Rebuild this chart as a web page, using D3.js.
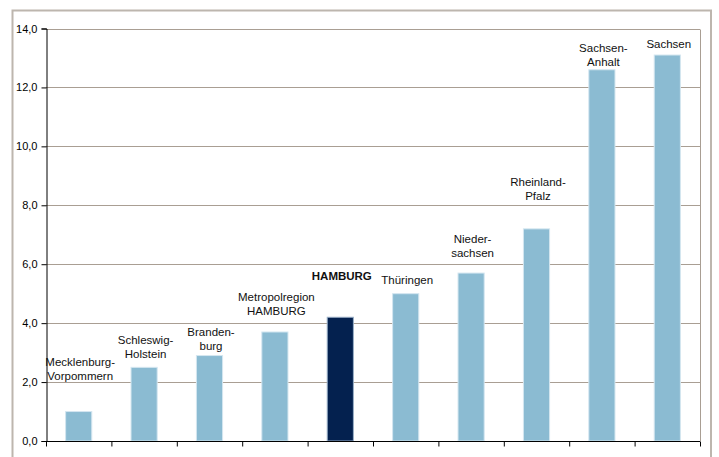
<!DOCTYPE html>
<html><head><meta charset="utf-8">
<script src="https://cdn.jsdelivr.net/npm/d3@7"></script>
<style>body{margin:0;background:#fff;} svg{display:block;font-family:"Liberation Sans",Arial,sans-serif;}</style>
</head><body>
<svg id="c" width="719" height="457"></svg>
<script>
const categories = ["Mecklenburg-\nVorpommern","Schleswig-\nHolstein","Branden-\nburg","Metropolregion\nHAMBURG","HAMBURG","Thüringen","Nieder-\nsachsen","Rheinland-\nPfalz","Sachsen-\nAnhalt","Sachsen"];
const values = [1.0, 2.5, 2.9, 3.7, 4.2, 5.0, 5.7, 7.2, 12.6, 13.1];
const highlight = [false,false,false,false,true,false,false,false,false,false];
const yTicks = [0,2,4,6,8,10,12,14];
// label gap above bar top (px, style)
const labelGap = [36, 13, 10, 21, 41, 14, 20, 33, 8, 11];

const svg = d3.select("#c");
const m = {left:46, right:700, top:28.5, bottom:441};
const x = d3.scaleBand().domain(d3.range(categories.length)).range([m.left, m.right]).paddingInner(0.6).paddingOuter(0.3);
const xb = d3.scaleBand().domain(d3.range(categories.length)).range([m.left, m.right]);
const y = d3.scaleLinear().domain([0,14]).range([m.bottom, m.top]);

// outer frame
svg.append("rect").attr("x",12.5).attr("y",10.5).attr("width",698.5).attr("height",460)
  .attr("fill","none").attr("stroke","#bdb6ae").attr("stroke-width",2);

// gridlines
svg.append("g").selectAll("line").data(yTicks.filter(d=>d>0)).join("line")
  .attr("x1",m.left).attr("x2",m.right)
  .attr("y1",d=>Math.round(y(d))+0.5).attr("y2",d=>Math.round(y(d))+0.5)
  .attr("stroke","#a99e93").attr("stroke-width",1);
// right border of plot
svg.append("line").attr("x1",m.right+0.5).attr("x2",m.right+0.5).attr("y1",Math.round(y(14))+0.5).attr("y2",m.bottom)
  .attr("stroke","#a99e93");

// bars
svg.append("g").selectAll("rect").data(values).join("rect")
  .attr("x",(d,i)=>x(i)).attr("width",x.bandwidth())
  .attr("y",d=>y(d)).attr("height",d=>m.bottom-y(d))
  .attr("fill",(d,i)=>highlight[i]?"#04214f":"#8bbbd2")
  .attr("stroke",(d,i)=>highlight[i]?"#9ab0c8":"#d4e6f0").attr("stroke-width",1);

// y axis
const yAxis = d3.axisLeft(y).tickValues(yTicks).tickSize(5).tickPadding(4)
  .tickFormat(d=>d3.format(".1f")(d).replace(".",","));
const gy = svg.append("g").attr("transform",`translate(${m.left+0.5},0)`).call(yAxis);
gy.select(".domain").attr("stroke","#000");
gy.selectAll(".tick line").attr("stroke","#000");
gy.selectAll("text").attr("font-size",11).attr("fill","#000").attr("font-family","Liberation Sans, Arial, sans-serif");

// x axis
const xAxis = d3.axisBottom(d3.scaleLinear().domain([0,categories.length]).range([m.left,m.right]))
  .tickValues(d3.range(categories.length+1)).tickSize(5).tickFormat("");
const gx = svg.append("g").attr("transform",`translate(0,${m.bottom+0.5})`).call(xAxis);
gx.select(".domain").attr("stroke","#000").attr("d",`M${m.left},0H${m.right}`);
gx.selectAll(".tick line").attr("stroke","#000");

// labels
const lg = svg.append("g");
categories.forEach((c,i)=>{
  const lines = c.split("\n");
  const cx = xb(i)+xb.bandwidth()/2 + 1.5;
  const lastY = y(values[i]) - labelGap[i];
  const t = lg.append("text").attr("text-anchor","middle").attr("font-size",11.5)
    .attr("fill","#111").attr("font-weight",highlight[i]?"bold":"normal");
  lines.forEach((ln,k)=>{
    t.append("tspan").attr("x",cx).attr("y",lastY - (lines.length-1-k)*14 + 4).text(ln);
  });
});
</script>
</body></html>
